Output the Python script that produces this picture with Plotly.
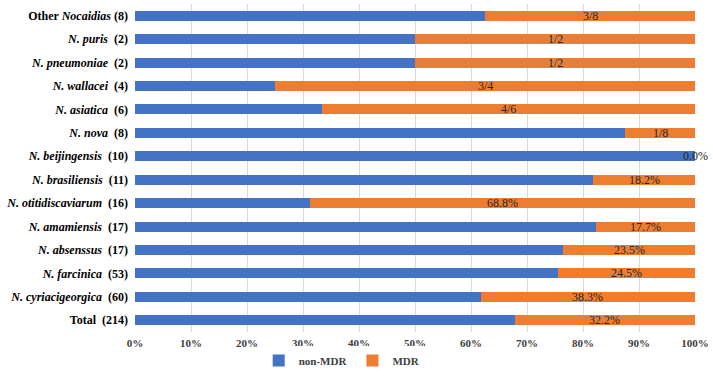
import plotly.graph_objects as go

categories = [
    "<b>Other <i>Nocaidias</i> (8)</b>",
    "<b><i>N. puris</i>  (2)</b>",
    "<b><i>N. pneumoniae</i>  (2)</b>",
    "<b><i>N. wallacei</i>  (4)</b>",
    "<b><i>N. asiatica</i>  (6)</b>",
    "<b><i>N. nova</i>  (8)</b>",
    "<b><i>N. beijingensis</i>  (10)</b>",
    "<b><i>N. brasiliensis</i>  (11)</b>",
    "<b><i>N. otitidiscaviarum</i>  (16)</b>",
    "<b><i>N. amamiensis</i>  (17)</b>",
    "<b><i>N. absenssus</i>  (17)</b>",
    "<b><i>N. farcinica</i>  (53)</b>",
    "<b><i>N. cyriacigeorgica</i>  (60)</b>",
    "<b>Total  (214)</b>",
]
non_mdr = [0.625, 0.5, 0.5, 0.25, 0.3333, 0.875, 1.0, 0.818, 0.312, 0.823, 0.765, 0.755, 0.617, 0.678]
mdr = [0.375, 0.5, 0.5, 0.75, 0.6667, 0.125, 0.0, 0.182, 0.688, 0.177, 0.235, 0.245, 0.383, 0.322]
mdr_labels = ["3/8", "1/2", "1/2", "3/4", "4/6", "1/8", "0.0%", "18.2%", "68.8%",
              "17.7%", "23.5%", "24.5%", "38.3%", "32.2%"]
tick_vals = [0, 0.1, 0.2, 0.3, 0.4, 0.5, 0.6, 0.7, 0.8, 0.9, 1.0]
tick_text = ["0%", "10%", "20%", "30%", "40%", "50%", "60%", "70%", "80%", "90%", "100%"]

serif = "'Times New Roman', 'Liberation Serif', 'DejaVu Serif', serif"

fig = go.Figure()
fig.add_trace(go.Bar(y=categories, x=non_mdr, orientation="h", name="<b>non-MDR</b>",
                     marker=dict(color="#4472C4", line=dict(width=0)), width=0.43))
fig.add_trace(go.Bar(y=categories, x=mdr, orientation="h", name="<b>MDR</b>",
                     marker=dict(color="#ED7D31", line=dict(width=0)), width=0.43))

for c, n, m, lab in zip(categories, non_mdr, mdr, mdr_labels):
    fig.add_annotation(x=n + m / 2, y=c, text=lab, showarrow=False,
                       xanchor="center", yanchor="middle",
                       font=dict(family=serif, size=12, color="#262626"))

fig.update_layout(
    barmode="stack",
    width=713, height=377,
    margin=dict(l=135, r=18, t=4, b=45, autoexpand=False),
    paper_bgcolor="white", plot_bgcolor="white",
    font=dict(family=serif, color="#000000"),
    showlegend=True,
    legend=dict(orientation="h", x=0.37, xanchor="center",
                yref="container", y=0.005, yanchor="bottom",
                font=dict(family=serif, size=11, color="#404040"),
                itemwidth=30, traceorder="normal"),
)
fig.update_xaxes(range=[0, 1.0], tickvals=tick_vals,
                 ticktext=["<b>" + t + "</b>" for t in tick_text],
                 showgrid=True, gridcolor="#D9D9D9", gridwidth=1,
                 zeroline=False, showline=False,
                 tickfont=dict(family=serif, size=11, color="#404040"),
                 ticklabelstandoff=3, automargin=False)
fig.update_yaxes(autorange="reversed", showgrid=False, showline=False,
                 tickfont=dict(family=serif, size=12, color="#000000"),
                 ticks="", ticklabelstandoff=6, automargin=False)

fig.write_html("out.html")
